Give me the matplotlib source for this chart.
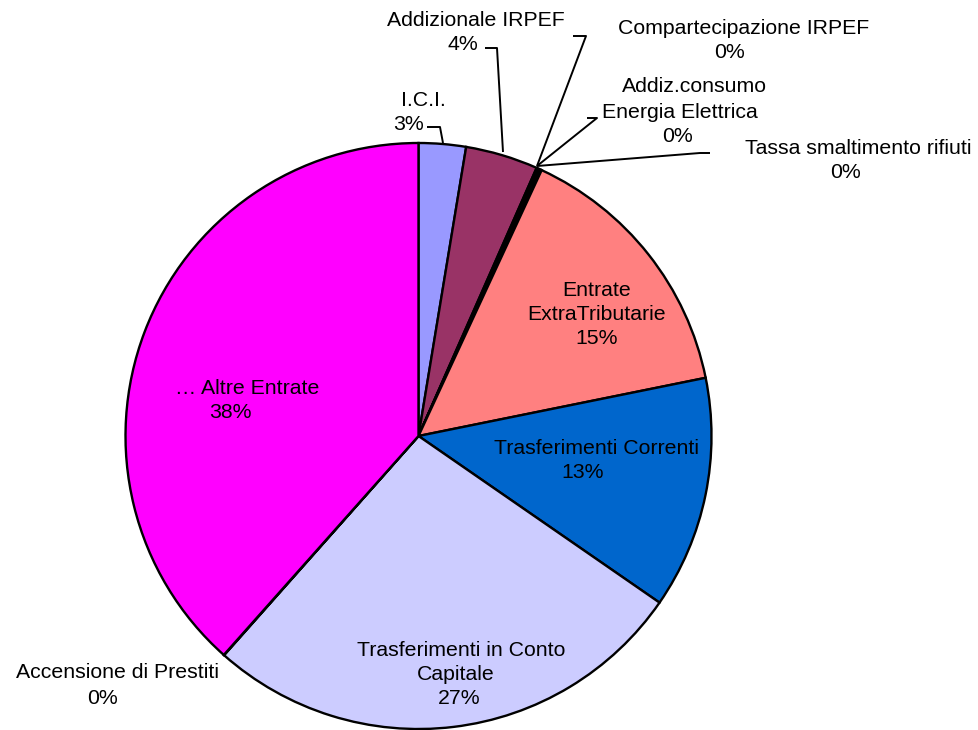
import matplotlib
matplotlib.use("Agg")
import matplotlib.pyplot as plt

categories = ["I.C.I.", "Addizionale IRPEF", "Compartecipazione IRPEF",
              "Addiz.consumo\nEnergia Elettrica", "Tassa smaltimento rifiuti",
              "Entrate\nExtraTributarie", "Trasferimenti Correnti",
              "Trasferimenti in Conto\nCapitale", "Accensione di Prestiti",
              "… Altre Entrate"]
values = [2.6, 4.0, 0.1, 0.1, 0.1, 14.9, 12.8, 26.9, 0.02, 38.4]
colors = ["#9999FF", "#993366", "#FFFFCC", "#CCFFFF", "#660066",
          "#FF8080", "#0066CC", "#CCCCFF", "#FFCC99", "#FF00FF"]

W, H = 979, 730
fig = plt.figure(figsize=(W / 100, H / 100), dpi=100)
ax = fig.add_axes([0, 0, 1, 1])

def Y(py):
    return H - py

cx, cy, r = 418.5, 436, 293
ax.pie(values, colors=colors, startangle=90, counterclock=False,
       center=(cx, Y(cy)), radius=r, frame=True,
       wedgeprops=dict(edgecolor="black", linewidth=1.7))
ax.set_xlim(0, W)
ax.set_ylim(0, H)
ax.set_aspect("equal")
ax.axis("off")

total = sum(values)
pct = [f"{v / total * 100:.0f}%" for v in values]

font = dict(family=["Liberation Sans", "DejaVu Sans"], fontsize=15.3, color="black")

# per-line label centres (pixels) as layout
line_pos = {
    0: [(423, 100), (409, 124)],
    1: [(476, 20), (463, 45)],
    2: [(744, 28), (730, 53)],
    3: [(694, 87), (680, 113), (678, 137)],
    4: [(858, 148), (846, 173)],
    5: [(597, 290), (597, 314), (597, 339)],
    6: [(597, 448), (583, 472)],
    7: [(461, 650), (456, 674), (459, 698)],
    8: [(118, 673), (103, 699)],
    9: [(247, 388), (230, 413)],
}
for i, poss in line_pos.items():
    lines = categories[i].split("\n") + [pct[i]]
    for txt, (px, py) in zip(lines, poss):
        ax.text(px, Y(py), txt, ha="center", va="center", **font)

# leader lines
leaders = [
    [(427, 127), (440, 127), (443, 143)],
    [(485, 48), (497, 48), (503, 152)],
    [(573, 36), (586, 36), (537, 166)],
    [(587, 118), (597, 118), (537, 166)],
    [(710, 153), (700, 153), (537, 166)],
]
for pts in leaders:
    xs = [p[0] for p in pts]
    ys = [Y(p[1]) for p in pts]
    ax.plot(xs, ys, color="black", linewidth=1.4, solid_capstyle="butt")

fig.savefig("out.png", dpi=100)
